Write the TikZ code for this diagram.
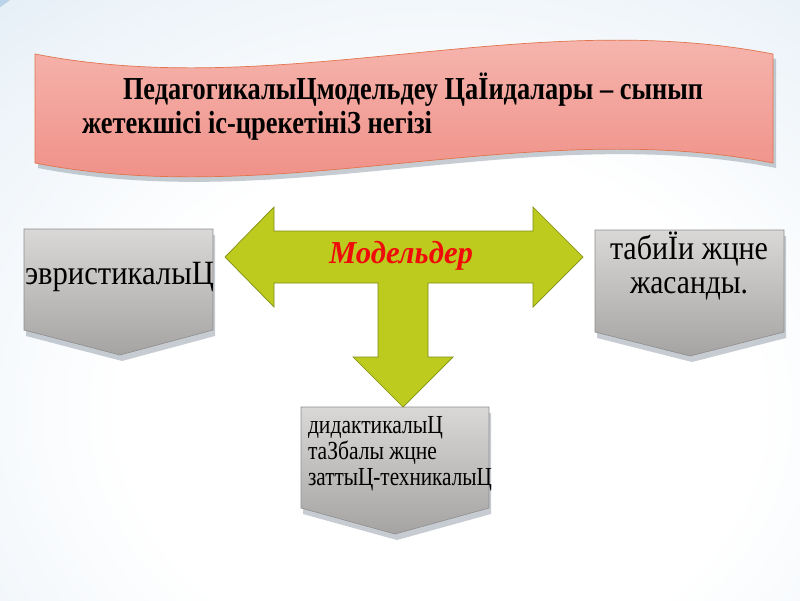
\documentclass[tikz,border=0pt]{standalone}
\usepackage{fontspec}
\setmainfont{Liberation Serif}
\usepackage{graphicx}
\definecolor{bgblue}{HTML}{BAD3E8}
\definecolor{bantop}{HTML}{F7BDB6}
\definecolor{banbot}{HTML}{EE8980}
\definecolor{banline}{HTML}{E2744E}
\definecolor{boxtop}{HTML}{DAD8D6}
\definecolor{boxbot}{HTML}{A6A4A2}
\definecolor{boxline}{HTML}{8E8E8E}
\definecolor{shadowc}{HTML}{8E9AA6}
\definecolor{arrowfill}{HTML}{BCCB1E}
\definecolor{arrowline}{HTML}{7F8E12}
\definecolor{modred}{HTML}{F00A0A}
\pgfdeclareradialshading{bgshade}{\pgfpoint{0bp}{0bp}}{color(0bp)=(white); color(12bp)=(white); color(50bp)=(bgblue)}
\newcommand\fitw[2]{\resizebox{#1}{\height}{#2}}
\tikzset{
  graybox/.style={top color=boxtop, bottom color=boxbot, draw=boxline, line width=0.6pt},
  boxshadow/.style={fill=shadowc, opacity=0.5},
  banner/.style={top color=bantop, bottom color=banbot, draw=banline, line width=0.7pt},
  tarrow/.style={fill=arrowfill, draw=arrowline, line width=0.7pt},
  txt/.style={anchor=base west, inner sep=0pt, outer sep=0pt},
}
\begin{document}
\begin{tikzpicture}[x=1pt,y=-1pt]
\useasboundingbox (0,0) rectangle (800,600);
% background
\fill[bgblue] (0,0) rectangle (800,600);
\begin{scope}
\clip (0,0) rectangle (800,600);
\shade[shading=bgshade] (440,410) ellipse (660 and 540);
\end{scope}

% banner
\fill[boxshadow] (38,59) .. controls (284,107) and (530,11) .. (776,59)
  -- (776,168) .. controls (530,120) and (284,216) .. (38,168) -- cycle;
\path[banner] (35,54) .. controls (281,102) and (527,6) .. (773,54)
  -- (773,163) .. controls (527,115) and (281,211) .. (35,163) -- cycle;
\node[txt] (title1) at (123,99) {\fontsize{32}{38}\selectfont\bfseries\fitw{580pt}{ПедагогикалыЦмодельдеу ЦаЇидалары – сынып}};
\node[txt] (title2) at (82,133) {\fontsize{32}{38}\selectfont\bfseries\fitw{350pt}{жетекшісі іс-црекетініЗ негізі}};

% gray boxes shadows
\fill[boxshadow] (26,235) -- (215,235) -- (215,336) -- (122,361) -- (26,336) -- cycle;
\fill[boxshadow] (597,236) -- (786,236) -- (786,338) -- (692,362) -- (597,338) -- cycle;
\fill[boxshadow] (303,413) -- (491,413) -- (491,514) -- (397,540) -- (303,514) -- cycle;

% gray boxes
\path[graybox] (24,229) -- (213,229) -- (213,330) -- (120,355) -- (24,330) -- cycle;
\path[graybox] (595,230) -- (784,230) -- (784,332) -- (690,356) -- (595,332) -- cycle;
\path[graybox] (301,407) -- (489,407) -- (489,508) -- (395,534) -- (301,508) -- cycle;

% T arrow
\path[tarrow] (225,257) -- (274,207) -- (274,231) -- (533,231) -- (533,207)
  -- (583,257) -- (533,307) -- (533,283) -- (428,283) -- (428,357)
  -- (453,357) -- (403,407) -- (353,357) -- (378,357) -- (378,283)
  -- (274,283) -- (274,307) -- cycle;

\node[txt, text=modred] (models) at (329,263) {\fontsize{32}{38}\selectfont\bfseries\itshape\fitw{144pt}{Модельдер}};

\node[txt] (left) at (25,284) {\fontsize{34}{40}\selectfont\fitw{189pt}{эвристикалыЦ}};

\node[txt] (right1) at (610,259) {\fontsize{34}{40}\selectfont\fitw{158pt}{табиЇи жцне}};
\node[txt] (right2) at (630,293) {\fontsize{34}{40}\selectfont\fitw{118pt}{жасанды.}};

\node[txt] (bot1) at (308,433) {\fontsize{26}{30}\selectfont\fitw{135pt}{дидактикалыЦ}};
\node[txt] (bot2) at (308,459) {\fontsize{26}{30}\selectfont\fitw{129pt}{таЗбалы жцне}};
\node[txt] (bot3) at (308,485) {\fontsize{26}{30}\selectfont\fitw{184pt}{заттыЦ-техникалыЦ}};
\end{tikzpicture}
\end{document}
